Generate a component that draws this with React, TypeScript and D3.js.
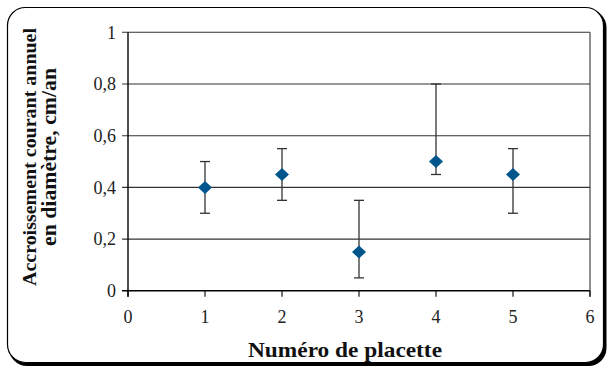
import React from "react";
import * as d3 from "d3";

const placettes = [1, 2, 3, 4, 5];
const means = [0.4, 0.45, 0.15, 0.5, 0.45];
const lows = [0.3, 0.35, 0.05, 0.45, 0.3];
const highs = [0.5, 0.55, 0.35, 0.8, 0.55];
const xTicks = [0, 1, 2, 3, 4, 5, 6];
const yTicks = [0, 0.2, 0.4, 0.6, 0.8, 1];
const yTickLabels = ["0", "0,2", "0,4", "0,6", "0,8", "1"];
const xTitle = "Numéro de placette";
const yTitle1 = "Accroissement courant annuel";
const yTitle2 = "en diamètre, cm/an";

export default function App() {
  const W = 610, H = 369;
  const x = d3.scaleLinear().domain([0, 6]).range([128, 590]);
  const y = d3.scaleLinear().domain([0, 1]).range([290.8, 32.3]);
  const serif: React.CSSProperties = { fontFamily: "Liberation Serif, DejaVu Serif, serif" };
  const dm = 7, dh = 6.5;
  return (
    <svg width={W} height={H} style={{ position: "absolute", left: 0, top: 0 }}>
      <rect x={0} y={0} width={W} height={H} fill="#fff" />
      <rect x={9} y={9.5} width={597.5} height={356.5} rx={18} ry={18} fill="#000" />
      <rect x={7.5} y={7.5} width={596} height={355} rx={18} ry={18} fill="#fff" stroke="#000" strokeWidth={1.2} />
      {yTicks.map((t, i) => (
        <g key={"y" + i}>
          <line x1={122} x2={590} y1={y(t)} y2={y(t)} stroke={t === 0 ? "#000" : "#333"} strokeWidth={t === 0 ? 1.4 : 1.1} />
          <text x={116} y={y(t)} dy="0.35em" textAnchor="end" style={serif} fontSize={18} fill="#222">{yTickLabels[i]}</text>
        </g>
      ))}
      <line x1={x(0)} x2={x(0)} y1={y(1)} y2={y(0) + 6} stroke="#000" strokeWidth={1.4} />
      <line x1={x(6)} x2={x(6)} y1={y(1)} y2={y(0) + 6} stroke="#333" strokeWidth={1.1} />
      {xTicks.map((t, i) => (
        <g key={"x" + i}>
          <line x1={x(t)} x2={x(t)} y1={y(0)} y2={y(0) + 6} stroke="#000" strokeWidth={1.1} />
          <text x={x(t)} y={323} textAnchor="middle" style={serif} fontSize={18} fill="#222">{t}</text>
        </g>
      ))}
      {placettes.map((p, i) => (
        <g key={"p" + i} stroke="#333" strokeWidth={1.3}>
          <line x1={x(p)} x2={x(p)} y1={y(lows[i])} y2={y(highs[i])} />
          <line x1={x(p) - 5} x2={x(p) + 5} y1={y(lows[i])} y2={y(lows[i])} />
          <line x1={x(p) - 5} x2={x(p) + 5} y1={y(highs[i])} y2={y(highs[i])} />
        </g>
      ))}
      {placettes.map((p, i) => (
        <path key={"m" + i} d={`M${x(p)},${y(means[i]) - dh}L${x(p) + dm},${y(means[i])}L${x(p)},${y(means[i]) + dh}L${x(p) - dm},${y(means[i])}Z`} fill="#00558c" />
      ))}
      <text x={345} y={357} textAnchor="middle" style={serif} fontWeight="bold" fontSize={21} fill="#111" textLength={194} lengthAdjust="spacingAndGlyphs">{xTitle}</text>
      <text transform="translate(36,157) rotate(-90)" textAnchor="middle" style={serif} fontWeight="bold" fontSize={19.5} fill="#111" textLength={258} lengthAdjust="spacingAndGlyphs">{yTitle1}</text>
      <text transform="translate(55.5,157) rotate(-90)" textAnchor="middle" style={serif} fontWeight="bold" fontSize={21} fill="#111" textLength={178} lengthAdjust="spacingAndGlyphs">{yTitle2}</text>
    </svg>
  );
}
